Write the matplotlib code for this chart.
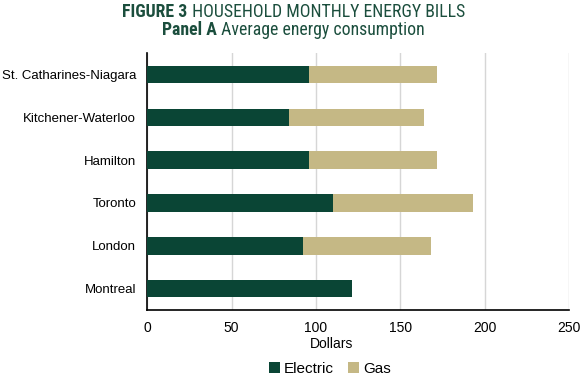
import matplotlib.pyplot as plt

cities = ["St. Catharines-Niagara", "Kitchener-Waterloo", "Hamilton",
          "Toronto", "London", "Montreal"]
electric = [96, 84, 96, 110, 92.5, 121.5]
gas = [76, 80, 76, 83, 75.5, 0]
x_ticks = [0, 50, 100, 150, 200, 250]

green = "#0a4535"
beige = "#c5b885"
title_color = "#1b4e3d"

plt.rcParams['font.family'] = ['Liberation Sans', 'DejaVu Sans']

fig = plt.figure(figsize=(5.87, 3.88), dpi=100)
ax = fig.add_axes([0.251, 0.201, 0.718, 0.662])

# top category first
pos = list(range(len(cities)))[::-1]
ax.barh(pos, electric, height=0.41, color=green, label="Electric", zorder=3)
ax.barh(pos, gas, left=electric, height=0.41, color=beige, label="Gas", zorder=3)

ax.set_xlim(0, 250)
ax.set_ylim(-0.5, 5.5)
ax.set_xticks(x_ticks)
ax.set_yticks(pos)
ax.set_yticklabels(cities, fontsize=9.5)
ax.tick_params(axis='x', labelsize=10, length=0, pad=8)
ax.tick_params(axis='y', length=0, pad=8)
ax.grid(axis='x', color='#d6d6d6', linewidth=1, zorder=0)

ax.spines['top'].set_visible(False)
ax.spines['right'].set_visible(False)
ax.spines['left'].set_linewidth(1.2)
ax.spines['bottom'].set_linewidth(1.2)

ax.set_xlabel("Dollars", fontsize=10, labelpad=2)
ax.xaxis.set_label_coords(0.438, -0.105)

ax.legend(loc='center', bbox_to_anchor=(0.562, 0.05), bbox_transform=fig.transFigure,
          ncol=2, frameon=False, fontsize=11, handlelength=0.7, handleheight=0.7,
          handletextpad=0.3, columnspacing=0.9)

# two-part titles: bold lead-in + regular text, centred together
cond = ['Roboto Condensed', 'Roboto', 'DejaVu Sans']
renderer = fig.canvas.get_renderer()
for y, bold, rest in [(0.956, "FIGURE 3", " HOUSEHOLD MONTHLY ENERGY BILLS"),
                      (0.910, "Panel A", " Average energy consumption")]:
    t1 = fig.text(0, y, bold, fontsize=12.8, fontweight='bold', color=title_color,
                  family=cond, va='baseline')
    t2 = fig.text(0, y, rest, fontsize=12.8, color=title_color, family=cond, va='baseline')
    w1 = t1.get_window_extent(renderer).width / fig.bbox.width
    w2 = t2.get_window_extent(renderer).width / fig.bbox.width
    x0 = 0.5 - (w1 + w2) / 2
    t1.set_x(x0)
    t2.set_x(x0 + w1)

fig.savefig("out.png", dpi=100)
